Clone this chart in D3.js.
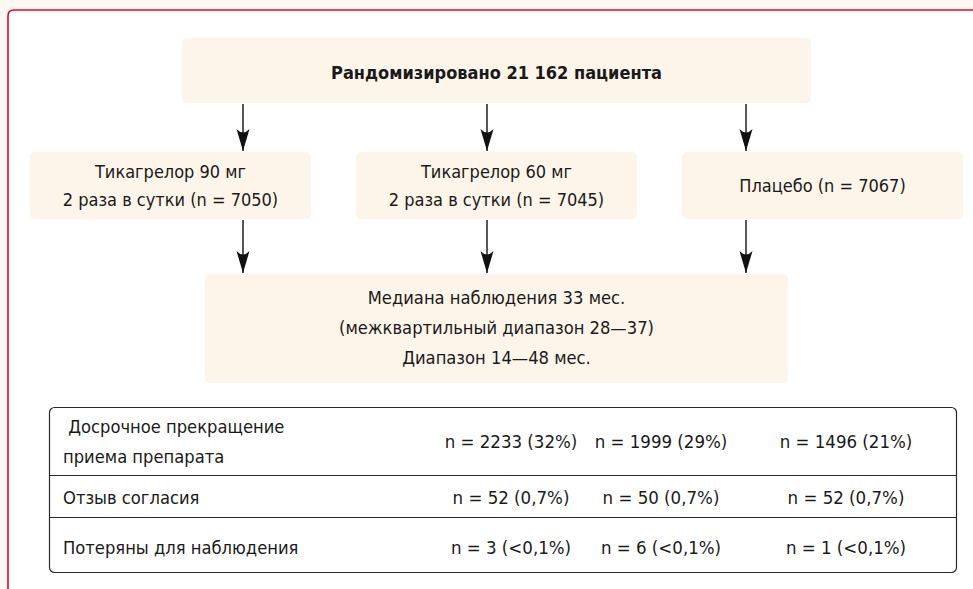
<!DOCTYPE html>
<html>
<head>
<meta charset="utf-8">
<script src="https://cdn.jsdelivr.net/npm/d3@7"></script>
<style>
  html, body { margin: 0; padding: 0; background: #fdf8f1; }
  svg { display: block; }
  text { font-family: "DejaVu Sans Condensed", "DejaVu Sans", sans-serif; fill: #1a1a1a; white-space: pre; }
</style>
</head>
<body>
<svg id="chart" width="973" height="589"></svg>
<script>
// ---------- data ----------
const topLabel = "Рандомизировано 21 162 пациента";
const arms = ["tic90", "tic60", "placebo"];
const armLines = [
  ["Тикагрелор 90 мг", "2 раза в сутки (n = 7050)"],
  ["Тикагрелор 60 мг", "2 раза в сутки (n = 7045)"],
  ["Плацебо (n = 7067)"]
];
const followUpLines = [
  "Медиана наблюдения 33 мес.",
  "(межквартильный диапазон 28—37)",
  "Диапазон 14—48 мес."
];
const rowLabels = [
  [" Досрочное прекращение", "приема препарата"],
  ["Отзыв согласия"],
  ["Потеряны для наблюдения"]
];
const rowCounts = [
  [2233, 1999, 1496],
  [52, 50, 52],
  [3, 6, 1]
];
const rowPercents = [
  ["32%", "29%", "21%"],
  ["0,7%", "0,7%", "0,7%"],
  ["<0,1%", "<0,1%", "<0,1%"]
];

// ---------- layout ----------
const W = 973, H = 589;
const svg = d3.select("#chart");
const boxFill = "#fdf5e9";
const red = "#e3052f";

// background panel with red frame
svg.append("rect").attr("x", 0).attr("y", 0).attr("width", W).attr("height", H).attr("fill", "#fdf8f1");
const fr = 6;
svg.append("path")
  .attr("d", `M8,${H + 2} L8,${10 + fr} Q8,10 ${8 + fr},10 L${W + 2},10 L${W + 2},${H + 2} Z`)
  .attr("fill", "#ffffff");
svg.append("path")
  .attr("d", `M8,${H + 2} L8,${10 + fr} Q8,10 ${8 + fr},10 L${W + 2},10`)
  .attr("fill", "none").attr("stroke", red).attr("stroke-width", 1.6);

// arrow marker
const defs = svg.append("defs");
defs.append("marker")
  .attr("id", "arr").attr("viewBox", "-7 -23 14 24")
  .attr("refX", 0).attr("refY", 0)
  .attr("markerWidth", 14).attr("markerHeight", 24)
  .attr("markerUnits", "userSpaceOnUse")
  .attr("orient", "0")
  .append("path")
  .attr("d", "M0,0 L-6.5,-22 Q0,-15 6.5,-22 Z")
  .attr("fill", "#111");

// scales
const xArm = d3.scaleBand().domain(arms).range([30, 963]).paddingInner(45 / 326).paddingOuter(0);
const xArrow = d3.scaleOrdinal().domain(arms).range([243, 487, 746]);
const xCol = d3.scaleOrdinal().domain(arms).range([511, 661, 846]);

// top box
const topBox = { x: 182, y: 38, w: 629, h: 65 };
svg.append("rect").attr("x", topBox.x).attr("y", topBox.y).attr("width", topBox.w).attr("height", topBox.h)
  .attr("rx", 5).attr("fill", boxFill);
svg.append("text").attr("x", topBox.x + topBox.w / 2).attr("y", 79)
  .attr("text-anchor", "middle").attr("font-size", 18).attr("font-weight", "bold")
  .text(topLabel);

// arrows from top to arms
const armTop = 152, armH = 67;
svg.selectAll("line.a1").data(arms).join("line")
  .attr("class", "a1")
  .attr("x1", d => xArrow(d)).attr("x2", d => xArrow(d))
  .attr("y1", topBox.y + topBox.h + 1).attr("y2", armTop - 1)
  .attr("stroke", "#111").attr("stroke-width", 1.4)
  .attr("marker-end", "url(#arr)");

// arm boxes
const armG = svg.selectAll("g.arm").data(arms).join("g").attr("class", "arm");
armG.append("rect")
  .attr("x", d => xArm(d)).attr("y", armTop)
  .attr("width", xArm.bandwidth()).attr("height", armH)
  .attr("rx", 5).attr("fill", boxFill);
armG.each(function (d, i) {
  const lines = armLines[i];
  const cy = armTop + armH / 2;
  const lh = 28;
  d3.select(this).selectAll("text").data(lines).join("text")
    .attr("x", xArm(d) + xArm.bandwidth() / 2)
    .attr("y", (l, j) => cy + 6 + (j - (lines.length - 1) / 2) * lh)
    .attr("text-anchor", "middle").attr("font-size", 18)
    .text(l => l);
});

// arrows from arms to follow-up
const fu = { x: 205, y: 274, w: 583, h: 109 };
svg.selectAll("line.a2").data(arms).join("line")
  .attr("class", "a2")
  .attr("x1", d => xArrow(d)).attr("x2", d => xArrow(d))
  .attr("y1", armTop + armH + 1).attr("y2", fu.y - 1)
  .attr("stroke", "#111").attr("stroke-width", 1.4)
  .attr("marker-end", "url(#arr)");

// follow-up box
svg.append("rect").attr("x", fu.x).attr("y", fu.y).attr("width", fu.w).attr("height", fu.h)
  .attr("rx", 5).attr("fill", boxFill);
svg.selectAll("text.fu").data(followUpLines).join("text")
  .attr("class", "fu")
  .attr("x", fu.x + fu.w / 2)
  .attr("y", (d, i) => 304 + i * 30)
  .attr("text-anchor", "middle").attr("font-size", 18.2)
  .text(d => d);

// table
const tb = { x: 49, y: 407, w: 907, h: 165 };
const rowEdges = [407, 475, 517, 572];
svg.append("rect").attr("x", tb.x + 0.5).attr("y", tb.y + 0.5).attr("width", tb.w).attr("height", tb.h)
  .attr("rx", 5).attr("fill", "#fff").attr("stroke", "#2a2a2a").attr("stroke-width", 1.2);
svg.selectAll("line.sep").data(rowEdges.slice(1, -1)).join("line")
  .attr("class", "sep")
  .attr("x1", tb.x + 0.5).attr("x2", tb.x + tb.w + 0.5)
  .attr("y1", d => d + 0.5).attr("y2", d => d + 0.5)
  .attr("stroke", "#2a2a2a").attr("stroke-width", 1.2);

const labelBaselines = [[433, 463], [504], [554]];
const valueBaselines = [448, 504, 554];
rowLabels.forEach((lines, r) => {
  svg.selectAll(null).data(lines).join("text")
    .attr("x", 63).attr("y", (d, j) => labelBaselines[r][j])
    .attr("font-size", 18.2)
    .text(d => d);
  svg.selectAll(null).data(arms).join("text")
    .attr("x", d => xCol(d)).attr("y", valueBaselines[r])
    .attr("text-anchor", "middle").attr("font-size", 18.5)
    .text((d, c) => `n = ${rowCounts[r][c]} (${rowPercents[r][c]})`);
});
</script>
</body>
</html>
